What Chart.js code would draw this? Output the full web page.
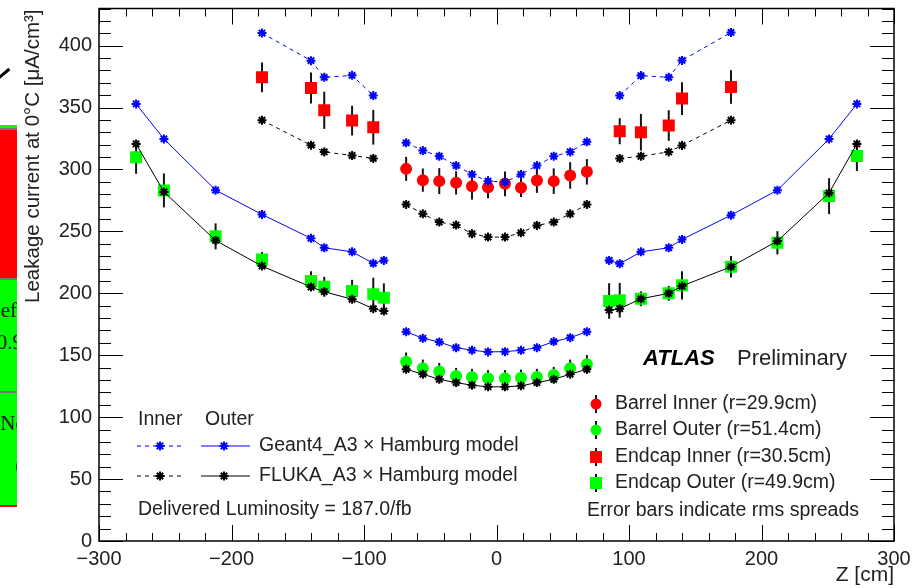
<!DOCTYPE html>
<html>
<head>
<meta charset="utf-8">
<script src="https://cdn.jsdelivr.net/npm/chart.js@4/dist/chart.umd.min.js"></script>
<style>
    html, body { margin: 0; padding: 0; background: #fff; }
    #wrap { position: relative; width: 920px; height: 588px; overflow: hidden; }
    #leakageChart { position: absolute; left: 0; top: 0; }
    .slide { position: absolute; left: 0; width: 17px; overflow: hidden; }
    .slide span { position: absolute; right: 0; font-family: "Liberation Serif", serif; font-size: 21px; color: #222; white-space: nowrap; }
</style>
</head>
<body>
<div id="wrap">
    <canvas id="leakageChart" width="920" height="588"></canvas>
    <!-- piece of the slide behind the plot -->
    <div class="slide" style="top:125px;height:3px;background:#00ff00"></div>
    <div class="slide" style="top:128px;height:2px;background:#777"></div>
    <div class="slide" style="top:130px;height:148px;background:#ff0000"></div>
    <div class="slide" style="top:278px;height:2px;background:#777"></div>
    <div class="slide" style="top:280px;height:225px;background:#00ff00">
        <span style="top:18px;right:0">ef</span>
        <span style="top:50px;right:-6px">0.9</span>
        <span style="top:131px;right:-9px">No</span>
        <span style="top:175px;right:-9px">0</span>
    </div>
    <div class="slide" style="top:391px;height:2px;background:#777"></div>
    <div class="slide" style="top:505px;height:2px;background:#ff0000"></div>
    <div style="position:absolute;left:-3px;top:72px;width:14px;height:3px;background:#000;transform:rotate(-40deg)"></div>
</div>
<script>
document.addEventListener('DOMContentLoaded', function () {

    // z position of the modules [cm]
    var zBarrel = [-68.2, -55.6, -43.2, -30.5, -18.5, -6.4, 6.4, 18.5, 30.5, 43.2, 55.6, 68.2];
    var zEndcapInner = [-177, -140, -130, -109, -93, 93, 109, 130, 140, 177];
    var zEndcapOuter = [-272, -251, -212, -177, -140, -130, -109, -93, -85, 85, 93, 109, 130, 140, 177, 212, 251, 272];

    // measured leakage current at 0C [uA/cm3] with rms spreads
    var barrelInner = [300.5, 291.4, 290.6, 289.2, 286.5, 285.7, 288.4, 285.2, 291.1, 290.6, 295.2, 298.1];
    var barrelInnerErr = [9.7, 9.4, 10.5, 9.4, 10.8, 8.9, 10, 7.4, 10, 10.3, 10.7, 10.3];
    var barrelOuter = [144.8, 139.5, 136.8, 133.3, 132.5, 131.5, 131.5, 131.9, 132.5, 134.1, 139.5, 142.7];
    var barrelOuterErr = [7.4, 7, 7, 6.5, 6.5, 6.5, 6.5, 6.5, 6.5, 6.5, 7, 7.5];
    var endcapInner = [374.4, 365.8, 347.8, 339.5, 334.1, 330.9, 330.1, 335.5, 357.3, 366.6];
    var endcapInnerErr = [12, 12.6, 15, 12, 14, 10.5, 14.8, 12.4, 13.2, 13.6];
    var endcapOuter = [309.9, 283.1, 246, 227.4, 209.9, 205.3, 201.9, 199.2, 196.5, 193.8, 194.4, 195.6, 200, 206.5, 221.5, 240.8, 278.5, 310.8];
    var endcapOuterErr = [13.4, 13.7, 10.5, 6, 8, 8, 9, 13.4, 11.5, 14.4, 14, 6, 6, 11.4, 8.7, 9.4, 14.5, 12];

    // simulation x Hamburg model predictions
    var g4BarrelInner = [321.5, 315.3, 310.7, 303.2, 296, 290.6, 289.8, 296, 303.2, 310.7, 314.2, 322.3];
    var g4BarrelOuter = [169, 163.7, 160.7, 156.1, 154, 152.7, 152.9, 154, 156.1, 161, 164.2, 169];
    var g4EndcapInner = [410.2, 387.9, 374.4, 376, 359.7, 359.7, 375.8, 374.4, 388.1, 410.7];
    var g4EndcapOuter = [352.9, 324.7, 283.3, 263.7, 244.4, 236.8, 233.5, 224.2, 226.6, 226.6, 223.9, 233.5, 236.8, 243.5, 263.1, 283.3, 324.7, 352.9];
    var flukaBarrelInner = [271.8, 264.2, 257.5, 255.1, 248.1, 245.4, 245.4, 248.9, 254.8, 257.5, 264.2, 271.8];
    var flukaBarrelOuter = [138.7, 134.7, 130.6, 127.9, 125.8, 124.5, 124.5, 125.3, 127.9, 130.6, 134.7, 138.7];
    var flukaEndcapInner = [339.8, 319.6, 314.2, 311.3, 308.9, 308.9, 310.7, 314.2, 319.4, 339.8];
    var flukaEndcapOuter = [320.6, 281.9, 242.7, 222, 205.1, 201.3, 195.2, 187.6, 185.7, 186.5, 187.6, 195.6, 200, 205.9, 221.5, 242.2, 281.1, 320.6];

    var xMin = -300, xMax = 300, xStep = 100;
    var yMin = 0, yMax = 430, yStep = 50;

    var BLUE = '#0000ff', BLACK = '#000000', RED = '#ff0000', GREEN = '#00ff00';
    var FONT = "'Liberation Sans', Arial, Helvetica, sans-serif";

    function points(z, v) {
        return z.map(function (x, i) { return {x: x, y: v[i]}; });
    }

    // endcap side C, barrel, endcap side A, with breaks in between
    function curve(zE, vE, zB, vB) {
        var left = [], right = [];
        zE.forEach(function (x, i) { (x < 0 ? left : right).push({x: x, y: vE[i]}); });
        return left.concat([{x: -80, y: null}], points(zB, vB), [{x: 80, y: null}], right);
    }

    function model(data, color, dashed) {
        return {
            data: data, showLine: true, spanGaps: false,
            borderColor: color, backgroundColor: color, borderWidth: 1,
            borderDash: dashed ? [4, 4] : [],
            pointStyle: 'star', pointRadius: 4.5, pointBorderWidth: 2,
            pointBorderColor: color
        };
    }

    function measured(data, errors, color, style, radius) {
        return {
            data: data, errors: errors, showLine: false,
            pointStyle: style, pointRadius: radius, pointBorderWidth: 0,
            backgroundColor: color, borderColor: color
        };
    }

    function star(ctx, x, y, color) {
        ctx.save();
        ctx.strokeStyle = color;
        ctx.lineWidth = 2;
        ctx.beginPath();
        for (var k = 0; k < 4; k++) {
            var ang = k * Math.PI / 4;
            ctx.moveTo(x - 4.5 * Math.cos(ang), y - 4.5 * Math.sin(ang));
            ctx.lineTo(x + 4.5 * Math.cos(ang), y + 4.5 * Math.sin(ang));
        }
        ctx.stroke();
        ctx.restore();
    }

    // frame, ROOT style ticks, error bars and the text boxes
    var rootStyle = {
        id: 'rootStyle',
        beforeDatasetsDraw: function (chart) {
            var ctx = chart.ctx, xs = chart.scales.x, ys = chart.scales.y;
            ctx.save();
            ctx.strokeStyle = '#151515';
            ctx.lineWidth = 2;
            chart.data.datasets.forEach(function (ds) {
                if (!ds.errors) return;
                ds.data.forEach(function (p, i) {
                    var px = xs.getPixelForValue(p.x);
                    ctx.beginPath();
                    ctx.moveTo(px, ys.getPixelForValue(p.y - ds.errors[i]));
                    ctx.lineTo(px, ys.getPixelForValue(p.y + ds.errors[i]));
                    ctx.stroke();
                });
            });
            ctx.restore();
        },
        afterDraw: function (chart) {
            var ctx = chart.ctx, a = chart.chartArea, xs = chart.scales.x, ys = chart.scales.y;
            ctx.save();
            ctx.strokeStyle = '#000';
            ctx.lineWidth = 1;
            ctx.beginPath();
            for (var v = xMin; v <= xMax; v += 20) {
                var px = Math.round(xs.getPixelForValue(v)) + 0.5;
                var len = (v % 100 === 0) ? 16 : 8;
                ctx.moveTo(px, a.bottom); ctx.lineTo(px, a.bottom - len);
                ctx.moveTo(px, a.top); ctx.lineTo(px, a.top + len);
            }
            for (var w = yMin; w <= yMax; w += 10) {
                var py = Math.round(ys.getPixelForValue(w)) + 0.5;
                var l2 = (w % 50 === 0) ? 24 : 12;
                ctx.moveTo(a.left, py); ctx.lineTo(a.left + l2, py);
                ctx.moveTo(a.right, py); ctx.lineTo(a.right - l2, py);
            }
            ctx.stroke();
            ctx.lineWidth = 1.5;
            ctx.strokeRect(a.left, a.top, a.right - a.left, a.bottom - a.top);

            ctx.fillStyle = '#222';
            ctx.textBaseline = 'middle';

            // axis titles
            ctx.font = '21px ' + FONT;
            ctx.textAlign = 'right';
            ctx.fillText('Z [cm]', a.right, 575);
            ctx.save();
            ctx.translate(33, a.top + 1);
            ctx.rotate(-Math.PI / 2);
            ctx.font = '20.5px ' + FONT;
            ctx.fillText('Leakage current at 0\u00b0C [\u03bcA/cm\u00b3]', 0, 0);
            ctx.restore();

            // model legend
            ctx.textAlign = 'left';
            ctx.font = '19.5px ' + FONT;
            ctx.fillText('Inner', 138, 420);
            ctx.fillText('Outer', 205, 420);
            var rows = [[BLUE, 'Geant4_A3 \u00d7 Hamburg model', 446], [BLACK, 'FLUKA_A3 \u00d7 Hamburg model', 476]];
            rows.forEach(function (r) {
                ctx.strokeStyle = r[0];
                ctx.lineWidth = 1;
                ctx.setLineDash([4, 4]);
                ctx.beginPath(); ctx.moveTo(137, r[2]); ctx.lineTo(185, r[2]); ctx.stroke();
                ctx.setLineDash([]);
                ctx.beginPath(); ctx.moveTo(201, r[2]); ctx.lineTo(250, r[2]); ctx.stroke();
                star(ctx, 160, r[2], r[0]);
                star(ctx, 224, r[2], r[0]);
                ctx.fillStyle = '#222';
                ctx.fillText(r[1], 259, r[2]);
            });
            ctx.fillText('Delivered Luminosity = 187.0/fb', 138, 510);

            // ATLAS label
            ctx.font = 'italic bold 22px ' + FONT;
            ctx.fillStyle = '#000';
            ctx.fillText('ATLAS', 643, 359);
            ctx.font = '22px ' + FONT;
            ctx.fillStyle = '#222';
            ctx.fillText('Preliminary', 737, 359);

            // data legend
            ctx.font = '19.5px ' + FONT;
            var entries = [
                [RED, 'circle', 'Barrel Inner (r=29.9cm)', 404],
                [GREEN, 'circle', 'Barrel Outer (r=51.4cm)', 430],
                [RED, 'rect', 'Endcap Inner (r=30.5cm)', 457],
                [GREEN, 'rect', 'Endcap Outer (r=49.9cm)', 483]
            ];
            entries.forEach(function (e) {
                ctx.strokeStyle = '#151515';
                ctx.lineWidth = 2;
                ctx.beginPath(); ctx.moveTo(596, e[3] - 9); ctx.lineTo(596, e[3] + 9); ctx.stroke();
                ctx.fillStyle = e[0];
                ctx.beginPath();
                if (e[1] === 'circle') ctx.arc(596, e[3], 5.5, 0, Math.PI * 2);
                else ctx.rect(590, e[3] - 6, 12, 12);
                ctx.fill();
                ctx.fillStyle = '#222';
                ctx.fillText(e[2], 615, e[3]);
            });
            ctx.fillText('Error bars indicate rms spreads', 587, 511);
            ctx.restore();
        }
    };

    var ctx = document.getElementById('leakageChart').getContext('2d');
    new Chart(ctx, {
        type: 'scatter',
        data: {
            datasets: [
                model(curve(zEndcapOuter, flukaEndcapOuter, zBarrel, flukaBarrelOuter), BLACK, false),
                model(curve(zEndcapInner, flukaEndcapInner, zBarrel, flukaBarrelInner), BLACK, true),
                model(curve(zEndcapOuter, g4EndcapOuter, zBarrel, g4BarrelOuter), BLUE, false),
                model(curve(zEndcapInner, g4EndcapInner, zBarrel, g4BarrelInner), BLUE, true),
                measured(points(zBarrel, barrelInner), barrelInnerErr, RED, 'circle', 6),
                measured(points(zBarrel, barrelOuter), barrelOuterErr, GREEN, 'circle', 6),
                measured(points(zEndcapInner, endcapInner), endcapInnerErr, RED, 'rect', 8.5),
                measured(points(zEndcapOuter, endcapOuter), endcapOuterErr, GREEN, 'rect', 8.5)
            ]
        },
        options: {
            responsive: false,
            animation: false,
            devicePixelRatio: 1,
            layout: { padding: { left: 0, top: 7, right: 26, bottom: 0 } },
            plugins: { legend: { display: false }, tooltip: { enabled: false } },
            scales: {
                x: {
                    type: 'linear', min: xMin, max: xMax,
                    grid: { display: false, drawTicks: false },
                    border: { display: false },
                    ticks: {
                        stepSize: xStep, padding: 6, color: '#222', maxRotation: 0,
                        font: { family: FONT, size: 20 },
                        callback: function (v) { return String(v).replace('-', '\u2212'); }
                    },
                    afterFit: function (s) {
                        s.height = 47;
                        s.paddingLeft = 0; s.paddingRight = 0;
                    }
                },
                y: {
                    type: 'linear', min: yMin, max: yMax,
                    grid: { display: false, drawTicks: false },
                    border: { display: false },
                    ticks: {
                        stepSize: yStep, padding: 7, color: '#222', includeBounds: false,
                        font: { family: FONT, size: 20 }
                    },
                    afterFit: function (s) {
                        s.width = 99;
                        s.paddingTop = 0; s.paddingBottom = 0;
                    }
                }
            }
        },
        plugins: [rootStyle]
    });

});
</script>
</body>
</html>
